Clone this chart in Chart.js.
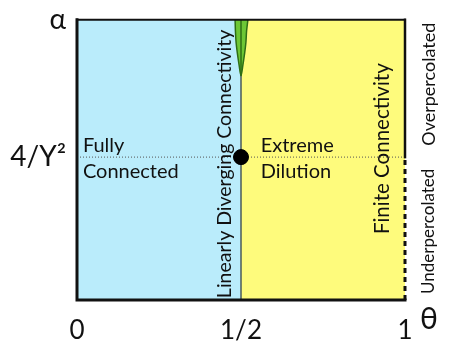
<!DOCTYPE html>
<html>
<head>
<meta charset="utf-8">
<script src="https://cdn.jsdelivr.net/npm/chart.js@4.4.1/dist/chart.umd.min.js"></script>
<style>
html,body{margin:0;padding:0;background:#fff;}
#wrap{width:450px;height:343px;position:relative;}
</style>
</head>
<body>
<div id="wrap"><canvas id="c" width="450" height="343"></canvas></div>
<script>
// ---- data ----
const xTickValues = [0, 0.5, 1];
const xTickLabels = ['0', '1/2', '1'];
const yTickValues = [0.51, 1];
const yTickLabels = ['4/\u03A5\u00B2', '\u03B1'];
const criticalAlpha = 0.51;
const criticalTheta = 0.5;
const blueRegionX = [0, 0.5];
const blueRegionY = [1, 1];
const yellowRegionX = [0.5, 1];
const yellowRegionY = [1, 1];
const lensX = [0.482, 0.483, 0.485, 0.489, 0.494, 0.5, 0.506, 0.511, 0.515, 0.517, 0.521];
const lensY = [1, 0.96, 0.92, 0.88, 0.84, 0.80, 0.84, 0.88, 0.92, 0.96, 1];
const boundaryX = [0.5, 0.5];
const boundaryY = [0, 1];
const dottedX = [0, 1];
const dottedY = [criticalAlpha, criticalAlpha];

const FONT = 'Lato, "Open Sans", "DejaVu Sans", sans-serif';
const pts = (xs, ys) => xs.map((x, i) => ({x: x, y: ys[i]}));

const textPlugin = {
  id: 'phaseText',
  afterDatasetsDraw(chart) {
    const ctx = chart.ctx;
    const xs = chart.scales.x, ys = chart.scales.y;
    const X = v => xs.getPixelForValue(v), Y = v => ys.getPixelForValue(v);
    const L = xs.left, R = xs.right, T = ys.top, B = ys.bottom;
    ctx.save();
    // frame
    ctx.strokeStyle = '#111';
    ctx.lineCap = 'square';
    ctx.lineWidth = 2;
    ctx.beginPath(); ctx.moveTo(L, T); ctx.lineTo(R, T); ctx.stroke();
    ctx.lineWidth = 3;
    ctx.beginPath(); ctx.moveTo(L, T); ctx.lineTo(L, B); ctx.lineTo(R, B); ctx.stroke();
    ctx.lineWidth = 2.5;
    ctx.beginPath(); ctx.moveTo(R, T); ctx.lineTo(R, Y(criticalAlpha)); ctx.stroke();
    ctx.lineCap = 'butt';
    ctx.setLineDash([5, 4]);
    ctx.lineWidth = 3;
    ctx.beginPath(); ctx.moveTo(R, Y(criticalAlpha) + 3); ctx.lineTo(R, B); ctx.stroke();
    ctx.setLineDash([]);

    ctx.fillStyle = '#111';
    ctx.textBaseline = 'alphabetic';
    ctx.textAlign = 'left';
    ctx.font = '20px ' + FONT;
    ctx.fillText('Fully', X(0.018), Y(criticalAlpha) - 5);
    ctx.fillText('Connected', X(0.018), Y(criticalAlpha) + 21);
    ctx.fillText('Extreme', X(0.56), Y(criticalAlpha) - 5);
    ctx.fillText('Dilution', X(0.56), Y(criticalAlpha) + 21);

    const vtext = (s, x, y, size) => {
      ctx.save();
      ctx.translate(x, y);
      ctx.rotate(-Math.PI / 2);
      ctx.font = size + 'px ' + FONT;
      ctx.textAlign = 'center';
      ctx.textBaseline = 'middle';
      ctx.fillText(s, 0, 0);
      ctx.restore();
    };
    vtext('Linearly Diverging Connectivity', X(0.45), (T + B) / 2 + 4, 19.5);
    vtext('Finite Connectivity', X(0.93), Y(0.54), 20.5);
    vtext('Overpercolated', R + 24, Y(0.77), 18);
    vtext('Underpercolated', R + 24, Y(0.245), 17);

    ctx.font = '30px ' + FONT;
    ctx.textAlign = 'center';
    ctx.textBaseline = 'middle';
    ctx.fillText('\u03B8', R + 24, B + 19);
    ctx.restore();
  }
};

new Chart(document.getElementById('c'), {
  type: 'scatter',
  data: {
    datasets: [
      { label: 'critical point', data: [{x: criticalTheta, y: criticalAlpha}], pointRadius: 7.5,
        pointBackgroundColor: '#000', pointBorderColor: '#000', order: 0 },
      { label: 'lens axis', data: pts([0.5, 0.5], [0.8, 1]), showLine: true, pointRadius: 0,
        borderColor: '#2e6e14', borderWidth: 1.5, order: 1 },
      { label: 'lens', data: pts(lensX, lensY), showLine: true, pointRadius: 0, tension: 0.3,
        borderColor: '#2e6e14', borderWidth: 1.5, backgroundColor: '#6dc735', fill: 'end', order: 2 },
      { label: 'boundary', data: pts(boundaryX, boundaryY), showLine: true, pointRadius: 0,
        borderColor: '#4a5a5a', borderWidth: 1.5, order: 3 },
      { label: 'dotted', data: pts(dottedX, dottedY), showLine: true, pointRadius: 0,
        borderColor: '#555', borderWidth: 1, borderDash: [1, 2], order: 4 },
      { label: 'yellow', data: pts(yellowRegionX, yellowRegionY), showLine: true, pointRadius: 0,
        borderWidth: 0, borderColor: 'rgba(0,0,0,0)', backgroundColor: '#fefb7c', fill: 'origin', order: 5 },
      { label: 'blue', data: pts(blueRegionX, blueRegionY), showLine: true, pointRadius: 0,
        borderWidth: 0, borderColor: 'rgba(0,0,0,0)', backgroundColor: '#baecfb', fill: 'origin', order: 6 }
    ]
  },
  options: {
    responsive: false,
    animation: false,
    events: [],
    layout: { padding: { top: 16, right: 45, left: 0, bottom: 0 } },
    plugins: { legend: { display: false }, tooltip: { enabled: false } },
    scales: {
      x: {
        type: 'linear', min: 0, max: 1,
        grid: { display: false }, border: { display: false },
        afterBuildTicks: s => { s.ticks = xTickValues.map(v => ({value: v})); },
        afterFit: s => { s.height = 43; },
        ticks: {
          color: '#111', padding: 7, maxRotation: 0, autoSkip: false,
          font: { family: FONT, size: 26 },
          callback: v => xTickLabels[xTickValues.indexOf(v)]
        }
      },
      y: {
        type: 'linear', min: 0, max: 1,
        grid: { display: false }, border: { display: false },
        afterBuildTicks: s => { s.ticks = yTickValues.map(v => ({value: v})); },
        afterFit: s => { s.width = 77; },
        ticks: {
          color: '#111', padding: 3, autoSkip: false,
          font: { family: FONT, size: 28 },
          callback: v => yTickLabels[yTickValues.indexOf(v)]
        }
      }
    }
  },
  plugins: [textPlugin]
});
</script>
</body>
</html>
